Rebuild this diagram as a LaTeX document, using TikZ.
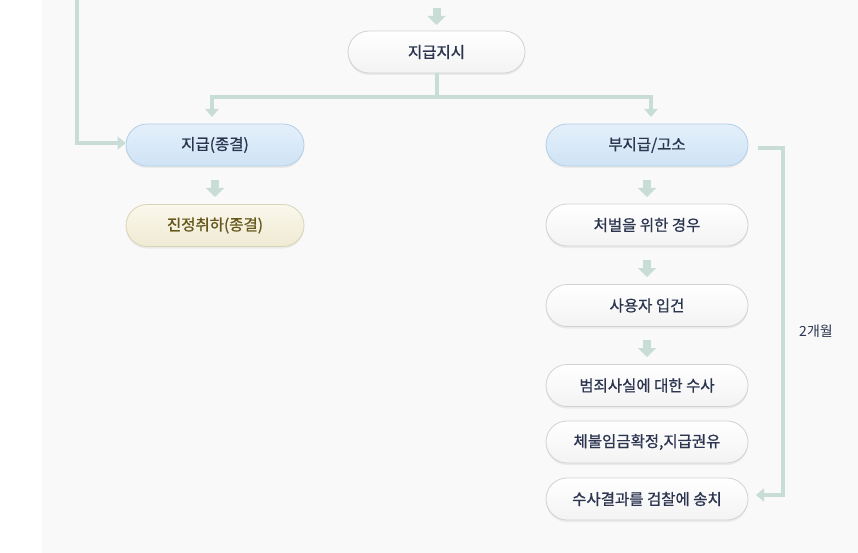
\documentclass[tikz,border=0pt]{standalone}
\usepackage{fontspec}
\setmainfont{Noto Sans CJK KR}
\newfontfamily\medfont{Noto Sans CJK KR}[FakeBold=0.9]
\usetikzlibrary{arrows.meta,shadows}

\tikzset{
    flowbox/.style={rectangle, rounded corners=21pt, minimum height=42pt, draw=boxBorder, line width=0.8pt,
        font=\medfont\fontsize{15.5}{18}\selectfont, text=textNavy,
        drop shadow={shadow xshift=0pt, shadow yshift=-2pt, opacity=0.12}},
    boxWhite/.style={flowbox, top color=white, bottom color=whiteBottom},
    boxBlue/.style={flowbox, top color=blueTop, bottom color=blueBottom, draw=blueBorder},
    boxCream/.style={flowbox, top color=creamTop, bottom color=creamBottom, draw=creamBorder, text=textOlive},
    flowLine/.style={draw=lineGreen, line width=4pt},
    flowTip/.style={-{Triangle[length=8pt,width=13pt]}},
    blockArrow/.style={draw=lineGreen, line width=8pt, -{Triangle[length=9pt,width=18pt]}}
}

\begin{document}
\begin{tikzpicture}[x=1pt, y=-1pt]
    \definecolor{bgGray}{HTML}{F9F9F9}
    \definecolor{lineGreen}{HTML}{C8DDD5}
    \definecolor{textNavy}{HTML}{2B3550}
    \definecolor{textOlive}{HTML}{66561C}
    \definecolor{boxBorder}{HTML}{D2D2D2}
    \definecolor{whiteBottom}{HTML}{F3F3F3}
    \definecolor{blueTop}{HTML}{E4F0FA}
    \definecolor{blueBottom}{HTML}{CFE3F5}
    \definecolor{blueBorder}{HTML}{B3CFE6}
    \definecolor{creamTop}{HTML}{FAF8EC}
    \definecolor{creamBottom}{HTML}{EFEAD3}
    \definecolor{creamBorder}{HTML}{D9D3B6}

    % Background
    \useasboundingbox (0,0) rectangle (858,553);
    \fill[white] (0,0) rectangle (858,553);
    \fill[bgGray] (42,0) rectangle (858,553);

    % Boxes
    \node[boxWhite, minimum width=177pt] (order) at (436.5,52) {지급지시};
    \node[boxBlue, minimum width=178pt] (paid) at (215,145) {지급(종결)};
    \node[boxCream, minimum width=178pt] (withdraw) at (215,225.5) {진정취하(종결)};
    \node[boxBlue, minimum width=202pt] (unpaid) at (647,145) {부지급/고소};
    \node[boxWhite, minimum width=202pt] (punish) at (647,225) {처벌을 위한 경우};
    \node[boxWhite, minimum width=202pt] (booking) at (647,305.5) {사용자 입건};
    \node[boxWhite, minimum width=202pt] (probe) at (647,385.5) {범죄사실에 대한 수사};
    \node[boxWhite, minimum width=202pt] (confirm) at (647,442) {체불임금확정,지급권유};
    \node[boxWhite, minimum width=202pt] (refer) at (647,499) {수사결과를 검찰에 송치};

    % Branch from order
    \coordinate (split) at (436.5,97);
    \coordinate (splitL) at (212,97);
    \coordinate (splitR) at (651,97);
    \draw[flowLine] (order.south) -- (split);
    \draw[flowLine, line cap=rect] (splitL) -- (splitR);
    \draw[flowLine, flowTip] (splitL) -- (212,117);
    \draw[flowLine, flowTip] (splitR) -- (651,117);

    % Line from above to paid
    \coordinate (leftTop) at (77,0);
    \draw[flowLine, flowTip] (leftTop) -- (77,143) -- (paid.west |- 0,143);

    % Two months line
    \coordinate (rightA) at (758,148);
    \coordinate (rightB) at (783,148);
    \coordinate (rightC) at (783,495);
    \draw[flowLine, flowTip] (rightA) -- (rightB) -- (rightC) -- (756,495);
    \node[font=\fontsize{14}{16}\selectfont, text=textNavy] (months) at (816,331) {2개월};

    % Block arrows
    \coordinate (topIn) at (436.5,8);
    \draw[blockArrow] (topIn) -- (436.5,25);
    \draw[blockArrow] (215,180) -- (215,197);
    \foreach \y in {180,260,340}
        \draw[blockArrow] (647,\y) -- (647,\y+17);
\end{tikzpicture}
\end{document}
